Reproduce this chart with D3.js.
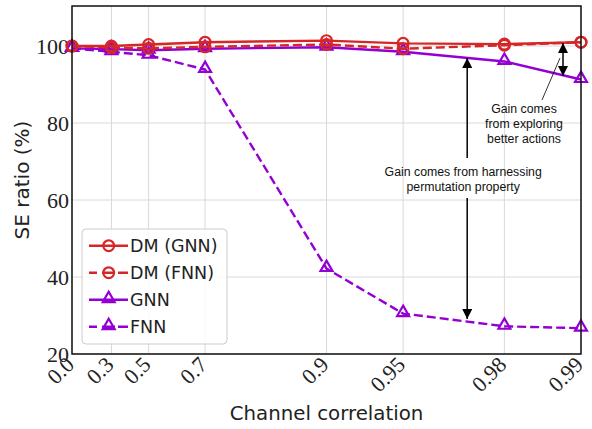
<!DOCTYPE html>
<html>
<head>
  <style>
    body { margin: 0; background: #fff; }
    .grid line { stroke: #d9d9d9; stroke-width: 1px; }
    .tick text { font-family: "Liberation Serif", serif; font-size: 22px; fill: #222; }
    .ann { font-family: "Liberation Sans", Arial, sans-serif; font-size: 12.3px; fill: #111; }
  </style>
</head>
<body>
  <svg id="chart"></svg>

  <script src="https://d3js.org/d3.v7.min.js"></script>
  <script>
    // Chart size
    var width = 592;
    var height = 429;
    var margin = {top: 6, right: 11, bottom: 75, left: 72};

    // Data
    var correlations = [0.0, 0.3, 0.5, 0.7, 0.9, 0.95, 0.98, 0.99];
    var tickLabels = ["0.0", "0.3", "0.5", "0.7", "0.9", "0.95", "0.98", "0.99"];
    var dmGnn = [100.0, 100.0, 100.4, 101.0, 101.4, 100.7, 100.5, 101.0];
    var dmFnn = [100.0, 99.6, 99.4, 99.8, 100.4, 99.3, 100.2, 101.0];
    var gnn = [99.4, 99.2, 98.9, 99.3, 99.7, 98.5, 96.0, 91.3];
    var fnn = [99.4, 98.5, 97.6, 93.9, 42.2, 30.5, 27.2, 26.7];
    var yTicks = [20, 40, 60, 80, 100];

    var series = [
      {name: "DM (GNN)", values: dmGnn, color: "#d62728", dash: null, marker: "circle"},
      {name: "DM (FNN)", values: dmFnn, color: "#d62728", dash: "9,4", marker: "circle"},
      {name: "GNN", values: gnn, color: "#9400d3", dash: null, marker: "triangle"},
      {name: "FNN", values: fnn, color: "#9400d3", dash: "9,4", marker: "triangle"}
    ];

    var svg = d3.select("#chart")
      .attr("width", width)
      .attr("height", height);

    var innerW = width - margin.left - margin.right;
    var innerH = height - margin.top - margin.bottom;

    // x axis is spaced by -log10(1 - rho)
    var x = d3.scaleLinear()
      .domain([0, 2])
      .range([0, innerW]);
    function xPos(rho) { return x(-Math.log10(1 - rho)); }

    var y = d3.scaleLinear()
      .domain([20, 110.4])
      .range([innerH, 0]);

    var g = svg.append("g")
      .attr("transform", "translate(" + margin.left + "," + margin.top + ")");

    // grid
    var grid = g.append("g").attr("class", "grid");
    grid.selectAll(".vx").data(correlations).enter().append("line")
      .attr("x1", function(d) { return xPos(d); })
      .attr("x2", function(d) { return xPos(d); })
      .attr("y1", 0).attr("y2", innerH);
    grid.selectAll(".hy").data(yTicks).enter().append("line")
      .attr("x1", 0).attr("x2", innerW)
      .attr("y1", function(d) { return y(d); })
      .attr("y2", function(d) { return y(d); });

    // axes
    var xAxis = d3.axisBottom(x)
      .tickValues(correlations.map(function(r) { return -Math.log10(1 - r); }))
      .tickFormat(function(d, i) { return tickLabels[i]; })
      .tickSize(0);
    var gx = g.append("g")
      .attr("transform", "translate(0," + innerH + ")")
      .call(xAxis);
    gx.select(".domain").remove();
    gx.selectAll(".tick text")
      .attr("text-anchor", "end")
      .attr("x", -6.4)
      .attr("y", 10.6)
      .attr("dy", 0)
      .attr("transform", "rotate(-45)");

    var yAxis = d3.axisLeft(y).tickValues(yTicks).tickSize(0).tickPadding(3);
    var gy = g.append("g").call(yAxis);
    gy.select(".domain").remove();
    gy.selectAll(".tick text").attr("dy", "0.33em");

    // lines
    var line = d3.line()
      .x(function(d, i) { return xPos(correlations[i]); })
      .y(function(d) { return y(d); });

    var triangle = d3.symbol().type(d3.symbolTriangle).size(62);

    function drawMarker(sel, s) {
      if (s.marker === "circle") {
        sel.append("circle").attr("r", 5.4);
      } else {
        sel.append("path").attr("d", triangle).attr("transform", "translate(0,-1)");
      }
      sel.selectAll("circle, path")
        .attr("fill", "none")
        .attr("stroke", s.color)
        .attr("stroke-width", 2.2);
    }

    // draw in reverse so red lines sit on top
    series.slice().reverse().forEach(function(s) {
      g.append("path")
        .datum(s.values)
        .attr("fill", "none")
        .attr("stroke", s.color)
        .attr("stroke-width", 2.4)
        .attr("stroke-dasharray", s.dash)
        .attr("d", line);
      g.selectAll(null).data(s.values).enter().append("g")
        .attr("transform", function(d, i) { return "translate(" + xPos(correlations[i]) + "," + y(d) + ")"; })
        .each(function() { drawMarker(d3.select(this), s); });
    });

    // frame
    g.append("rect")
      .attr("width", innerW).attr("height", innerH)
      .attr("fill", "none").attr("stroke", "#111").attr("stroke-width", 1.5);

    // annotations
    var defs = svg.append("defs");
    defs.append("marker")
      .attr("id", "head")
      .attr("viewBox", "0 0 10 10")
      .attr("refX", 10).attr("refY", 5)
      .attr("markerWidth", 12).attr("markerHeight", 10)
      .attr("markerUnits", "userSpaceOnUse")
      .attr("orient", "auto-start-reverse")
      .append("path").attr("d", "M0,0 L10,5 L0,10 Z").attr("fill", "#000");

    var ax = xPos(0.972);
    // permutation gain: up to GNN and down to FNN
    g.append("line")
      .attr("x1", ax).attr("x2", ax)
      .attr("y1", 152).attr("y2", 52)
      .attr("stroke", "#000").attr("stroke-width", 1.5)
      .attr("marker-end", "url(#head)");
    g.append("line")
      .attr("x1", ax).attr("x2", ax)
      .attr("y1", 192).attr("y2", 313)
      .attr("stroke", "#000").attr("stroke-width", 1.5)
      .attr("marker-end", "url(#head)");
    g.append("text").attr("class", "ann")
      .attr("x", ax - 4).attr("y", 170).attr("text-anchor", "middle")
      .text("Gain comes from harnessing");
    g.append("text").attr("class", "ann")
      .attr("x", ax - 4).attr("y", 185).attr("text-anchor", "middle")
      .text("permutation property");

    // exploration gain: between DM (GNN) and GNN at rho = 0.99
    var bx = xPos(0.99) - 18;
    g.append("line")
      .attr("x1", bx).attr("x2", bx)
      .attr("y1", 54).attr("y2", 37)
      .attr("stroke", "#000").attr("stroke-width", 1.5)
      .attr("marker-end", "url(#head)");
    g.append("line")
      .attr("x1", bx).attr("x2", bx)
      .attr("y1", 54).attr("y2", 70)
      .attr("stroke", "#000").attr("stroke-width", 1.5)
      .attr("marker-end", "url(#head)");
    g.append("line")
      .attr("x1", 470).attr("y1", 94)
      .attr("x2", bx - 3).attr("y2", 52)
      .attr("stroke", "#000").attr("stroke-width", 0.8);
    ["Gain comes", "from exploring", "better actions"].forEach(function(t, i) {
      g.append("text").attr("class", "ann")
        .attr("x", 452).attr("y", 107 + i * 15).attr("text-anchor", "middle")
        .text(t);
    });

    // legend
    var lg = g.append("g").attr("transform", "translate(10,223)");
    lg.append("rect")
      .attr("width", 145).attr("height", 115)
      .attr("rx", 4)
      .attr("fill", "#fff").attr("fill-opacity", 0.85)
      .attr("stroke", "#ccc").attr("stroke-width", 1);
    series.forEach(function(s, i) {
      var row = lg.append("g").attr("transform", "translate(0," + (16.7 + i * 27) + ")");
      row.append("line")
        .attr("x1", 7).attr("x2", 46)
        .attr("stroke", s.color).attr("stroke-width", 2.4)
        .attr("stroke-dasharray", s.dash ? "8,5,13,3,10" : null);
      var m = row.append("g").attr("transform", "translate(26.7,0)");
      drawMarker(m, s);
      row.append("text")
        .attr("x", 48).attr("y", 0).attr("dy", "0.35em")
        .style("font-family", "'DejaVu Sans', sans-serif")
        .style("font-size", "17.5px").style("fill", "#222")
        .text(s.name);
    });

    // axis titles
    svg.append("text")
      .attr("transform", "translate(29," + (margin.top + innerH / 2) + ") rotate(-90)")
      .attr("text-anchor", "middle")
      .style("font-family", "'DejaVu Sans', sans-serif")
      .style("font-size", "20px").style("fill", "#222")
      .text("SE ratio (%)");
    svg.append("text")
      .attr("x", margin.left + innerW / 2).attr("y", 420)
      .attr("text-anchor", "middle")
      .style("font-family", "'DejaVu Sans', sans-serif")
      .style("font-size", "19.8px").style("fill", "#222")
      .text("Channel correlation");
  </script>
</body>
</html>
